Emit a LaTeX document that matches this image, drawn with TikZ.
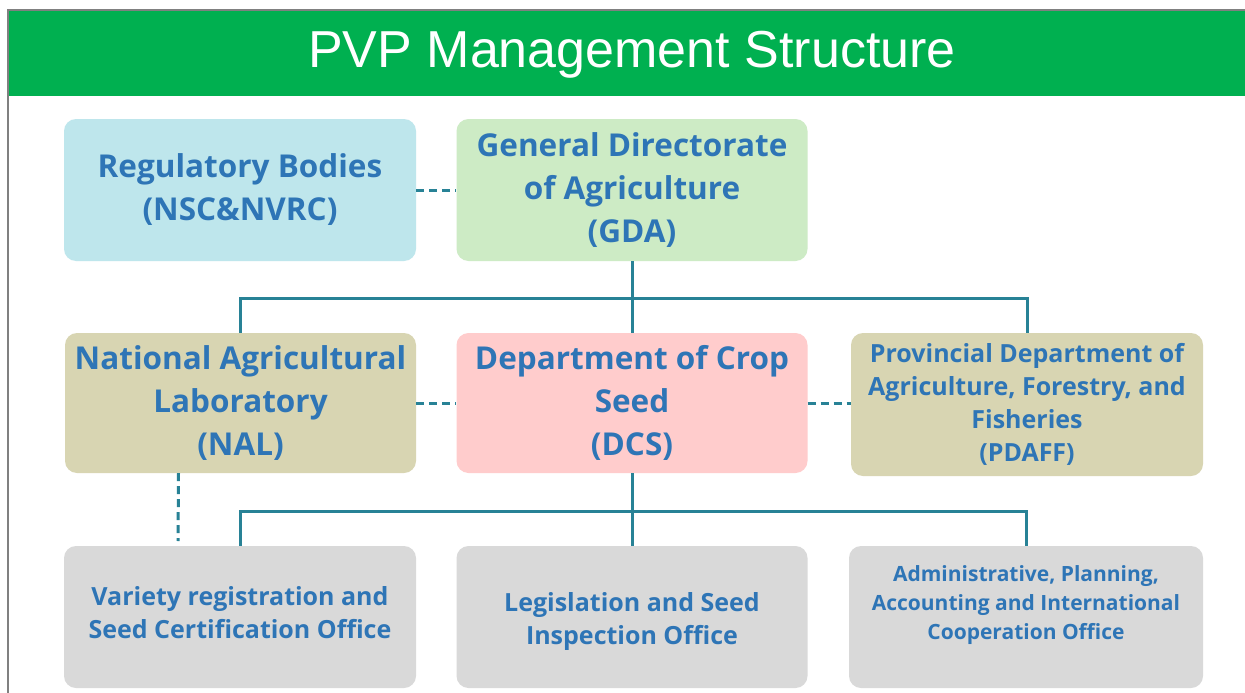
\documentclass[tikz,border=0pt]{standalone}
\usepackage{fontspec}
\setmainfont{Open Sans}
\newfontfamily\titlefont{Liberation Sans}
\definecolor{hdrgreen}{RGB}{0,176,80}
\definecolor{txtblue}{RGB}{46,117,182}
\definecolor{teal}{RGB}{40,130,150}
\definecolor{frameg}{RGB}{128,128,128}
\definecolor{cblue}{RGB}{190,230,236}
\definecolor{cgreen}{RGB}{205,235,197}
\definecolor{ckhaki}{RGB}{216,213,178}
\definecolor{cpink}{RGB}{255,204,204}
\definecolor{cgray}{RGB}{217,217,217}
\tikzset{
  box/.style={rectangle, rounded corners=12pt, inner sep=0pt, align=center,
    text=txtblue, font=\bfseries\fontsize{31.5}{43}\selectfont},
  smallbox/.style={box, font=\bfseries\fontsize{25}{33}\selectfont},
  tinybox/.style={box, font=\bfseries\fontsize{21}{29}\selectfont},
  boxtext/.style={inner sep=0pt, align=center, text=txtblue, font=\bfseries\fontsize{25}{33}\selectfont},
  conn/.style={draw=teal, line width=3pt},
  dconn/.style={conn, dash pattern=on 8pt off 5pt},
}
\begin{document}
\begin{tikzpicture}[x=1pt,y=-1pt]
\useasboundingbox (0,0) rectangle (1245,693);
\fill[white] (0,0) rectangle (1245,693);
% frame and header
\draw[frameg, line width=2pt] (8,693) -- (8,10) -- (1245,10);
\fill[hdrgreen] (9,11) rectangle (1245,96);
\node[text=white, font=\titlefont\fontsize{52}{60}\selectfont] (title) at (632,55) {PVP Management Structure};
% boxes
\node[box, fill=cblue, minimum width=352pt, minimum height=142pt] (reg) at (240,190)
  {Regulatory Bodies\\(NSC\&NVRC)};
\node[box, fill=cgreen, minimum width=351pt, minimum height=142pt] (gda) at (632,190)
  {General Directorate\\of Agriculture\\(GDA)};
\node[box, fill=ckhaki, minimum width=351pt, minimum height=140pt] (nal) at (240.5,403)
  {National Agricultural\\Laboratory\\(NAL)};
\node[box, fill=cpink, minimum width=351pt, minimum height=140pt] (dcs) at (632,403)
  {Department of Crop\\Seed\\(DCS)};
\node[smallbox, fill=ckhaki, minimum width=352pt, minimum height=143pt] (pdaff) at (1027,404.5)
  {Provincial Department of\\Agriculture, Forestry, and\\Fisheries\\(PDAFF)};
\node[box, fill=cgray, minimum width=352pt, minimum height=142pt] (vr) at (240,617) {};
\node[boxtext, yshift=4.5pt] (vrtext) at (vr.center)
  {Variety registration and\\Seed Certification Office};
\node[box, fill=cgray, minimum width=351pt, minimum height=142pt] (leg) at (632,617) {};
\node[boxtext, yshift=-4.5pt] (legtext) at (leg.center)
  {Legislation and Seed\\Inspection Office};
\node[tinybox, fill=cgray, minimum width=354pt, minimum height=142pt] (adm) at (1026,617)
  {Administrative, Planning,\\Accounting and International\\Cooperation Office\\\mbox{}};
% connectors
\coordinate (j1) at (632,298);
\coordinate (j2) at (632,511);
\draw[dconn] (reg.east) -- (gda.west);
\draw[dconn] (nal.east) -- (dcs.west);
\draw[dconn] (dcs.east) -- (pdaff.west |- dcs.east);
\draw[conn] (gda.south) -- (j1);
\draw[conn] (nal.north) |- (j1) -| (pdaff.north);
\draw[conn] (j1) -- (dcs.north);
\draw[conn] (dcs.south) -- (j2);
\draw[conn] (vr.north) |- (j2) -| (adm.north);
\draw[conn] (j2) -- (leg.north);
\coordinate (nalb) at ([xshift=-62pt]nal.south);
\coordinate (dend) at (178,541);
\draw[dconn] (nalb) -- (dend);
\end{tikzpicture}
\end{document}
